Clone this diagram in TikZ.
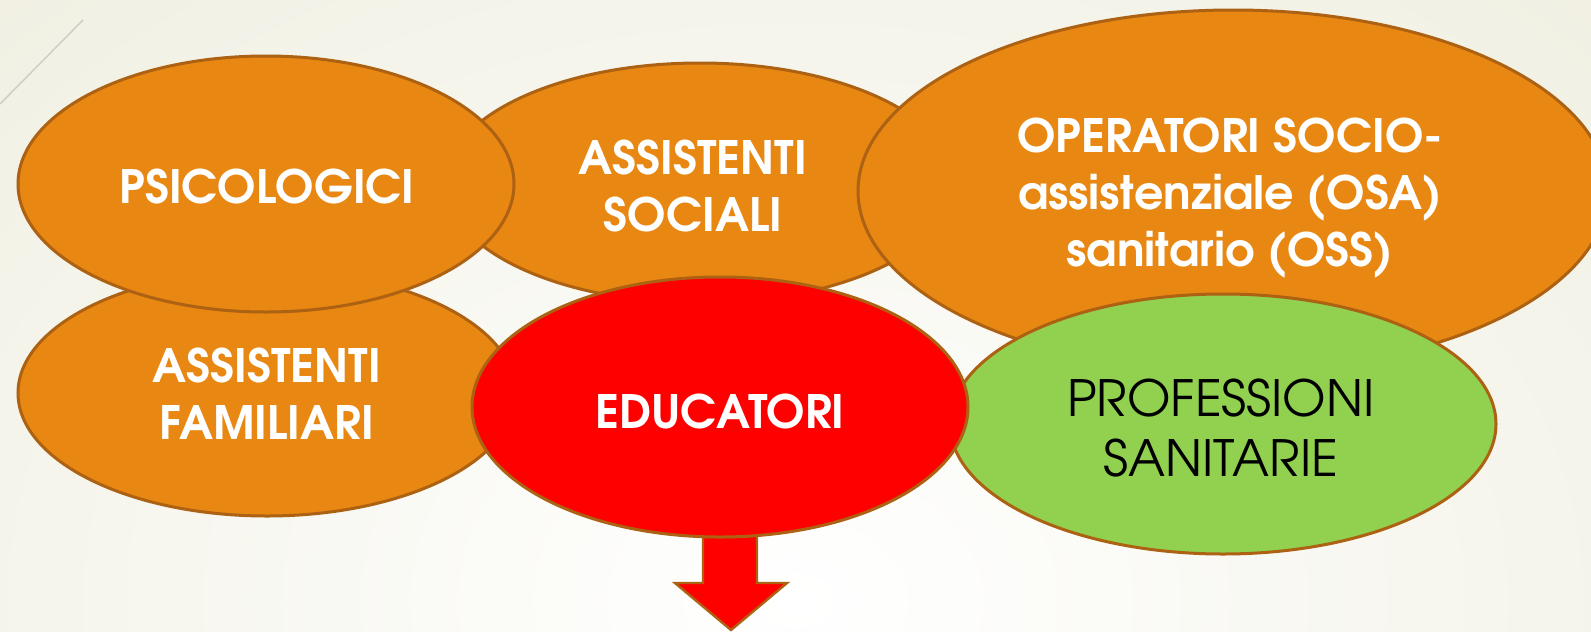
\documentclass[tikz,border=0pt]{standalone}
\usepackage{fontspec}
\setmainfont{texgyreadventor}[Extension=.otf, UprightFont=*-regular, BoldFont=*-bold, ItalicFont=*-italic, BoldItalicFont=*-bolditalic]
\usetikzlibrary{shapes.geometric}
\definecolor{bgcream}{RGB}{236,235,218}
\definecolor{orfill}{RGB}{232,135,17}
\definecolor{orline}{RGB}{172,98,18}
\definecolor{redfill}{RGB}{255,0,0}
\definecolor{greenfill}{RGB}{146,208,80}
\definecolor{thinline}{RGB}{208,208,196}
\begin{document}
\begin{tikzpicture}[x=0.5pt,y=-0.5pt,
  blob/.style={ellipse, draw=orline, line width=1.5pt, inner sep=0pt},
  orblob/.style={blob, fill=orfill},
  boldtxt/.style={font=\fontsize{23}{28.5}\selectfont\bfseries, text=white, align=center, inner sep=0pt},
  thintxt/.style={font=\fontsize{25}{30}\selectfont, text=black, align=center, inner sep=0pt}]
\useasboundingbox (0,0) rectangle (1591,632);
\begin{scope}
\clip (0,0) rectangle (1591,632);
\fill[bgcream] (0,0) rectangle (1591,632);
\shade[inner color=white, outer color=bgcream] (795,600) ellipse (1500 and 1100);
\end{scope}
\draw[thinline, line width=0.8pt] (83,20) -- (0,104);
% ellipses
\node[orblob, minimum width=249pt, minimum height=123pt] (fam) at (267,393) {};
\node[boldtxt] (famT) at (267,394) {ASSISTENTI\\FAMILIARI};
\node[orblob, minimum width=255pt, minimum height=120pt] (soc) at (700,183) {};
\node[boldtxt] (socT) at (693,186) {ASSISTENTI\\SOCIALI};
\node[orblob, minimum width=248pt, minimum height=128pt] (psi) at (266,184) {};
\node[boldtxt] (psiT) at (267,186) {PSICOLOGICI};
\node[orblob, minimum width=375pt, minimum height=181pt] (ope) at (1233,191) {};
\node[boldtxt] (opeT) at (1230,198) {OPERATORI SOCIO-\\assistenziale (OSA)\\sanitario (OSS)};
\node[blob, fill=greenfill, minimum width=273pt, minimum height=130pt] (pro) at (1223,424) {};
\node[thintxt] (proT) at (1221,428) {PROFESSIONI\\SANITARIE};
% block arrow
\draw[fill=redfill, draw=orline, line width=1.2pt, line join=miter]
  (703,500) -- (757,500) -- (757,583) -- (787,583) -- (731,630) -- (675,583) -- (703,583) -- cycle;
\node[blob, fill=redfill, minimum width=248pt, minimum height=130pt] (edu) at (720,407) {};
\node[boldtxt] (eduT) at (720,411) {EDUCATORI};
\end{tikzpicture}
\end{document}
